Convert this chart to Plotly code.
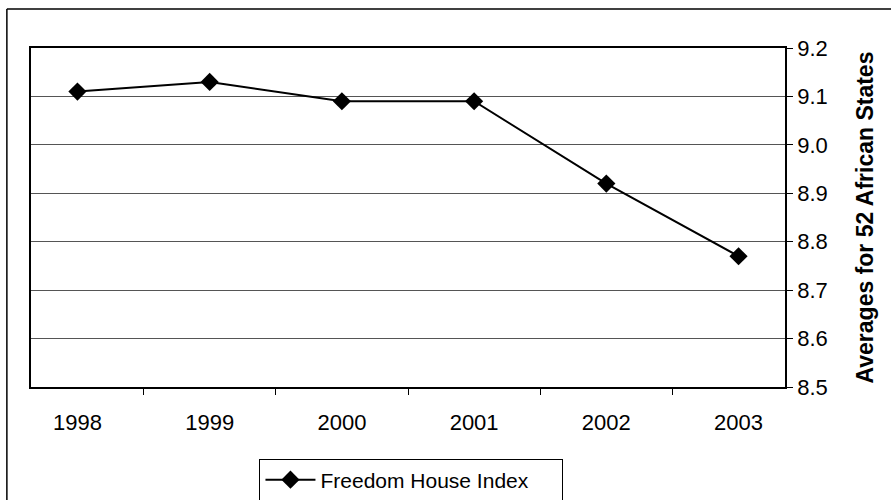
import plotly.graph_objects as go

# Freedom House index, averages for 52 African states
years = ["1998", "1999", "2000", "2001", "2002", "2003"]
fh_index = [9.11, 9.13, 9.09, 9.09, 8.92, 8.77]
y_ticks = [8.5, 8.6, 8.7, 8.8, 8.9, 9.0, 9.1, 9.2]
y_ticklabels = ["8.5", "8.6", "8.7", "8.8", "8.9", "9.0", "9.1", "9.2"]

fig = go.Figure()

fig.add_trace(go.Scatter(
    x=years,
    y=fh_index,
    mode="lines+markers",
    line=dict(color="black", width=2),
    marker=dict(symbol="diamond", size=14, color="black"),
    name="Freedom House Index",
))

# outer chart frame (only top and left edges visible in the scan)
fig.add_shape(type="line", xref="paper", yref="paper",
              x0=-0.032, x1=1.2, y0=1.115, y1=1.115,
              line=dict(color="black", width=1.5))
fig.add_shape(type="line", xref="paper", yref="paper",
              x0=-0.032, x1=-0.032, y0=1.115, y1=-0.4,
              line=dict(color="black", width=1.5))

fig.update_layout(
    width=891,
    height=500,
    margin=dict(l=31, r=106, t=48, b=113, autoexpand=False),
    plot_bgcolor="white",
    paper_bgcolor="white",
    font=dict(family="Arial", size=22, color="black"),
    showlegend=True,
    legend=dict(
        orientation="h",
        x=0.303, y=-0.211, xanchor="left", yanchor="top",
        bordercolor="black", borderwidth=1,
        font=dict(size=21),
        itemwidth=50,
        entrywidth=237,
        bgcolor="white",
    ),
    xaxis=dict(
        type="category",
        automargin=False,
        showline=True, linecolor="black", linewidth=1.5,
        mirror=True,
        ticks="outside", ticklen=6, tickcolor="black",
        tickson="boundaries",
        ticklabelstandoff=15,
        showgrid=False,
        tickfont=dict(size=22),
    ),
    yaxis=dict(
        side="right",
        automargin=False,
        range=[8.5, 9.2],
        tickvals=y_ticks,
        ticktext=y_ticklabels,
        showline=True, linecolor="black", linewidth=1.5,
        mirror=True,
        ticks="outside", ticklen=6, tickcolor="black",
        showgrid=True, gridcolor="#555555", gridwidth=1,
        tickfont=dict(size=22),
        title=dict(text="<b>Averages for 52 African States</b>",
                   font=dict(size=23), standoff=30),
    ),
)

# drop the default 8px body margin so the figure sits at the window corner
fig.write_html("out.html", config={"displayModeBar": False},
               post_script="document.body.style.margin='0px';")
